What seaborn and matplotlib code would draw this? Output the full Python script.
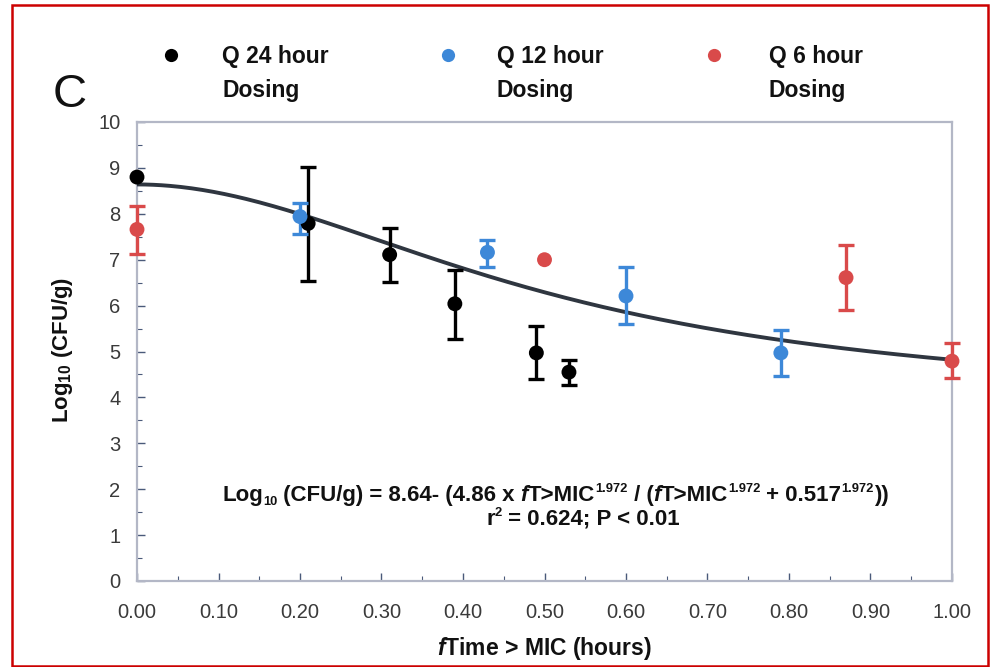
import numpy as np
import pandas as pd
import matplotlib
matplotlib.use("Agg")
import matplotlib.pyplot as plt
from matplotlib.lines import Line2D
from matplotlib.patches import Rectangle
from matplotlib.ticker import MultipleLocator, FormatStrFormatter
import seaborn as sns

# ---------------- data ----------------
q24_x = [0.00, 0.21, 0.31, 0.39, 0.49, 0.53]
q24_y = [8.80, 7.79, 7.11, 6.04, 4.97, 4.55]
q24_hi = [8.80, 9.01, 7.68, 6.78, 5.56, 4.81]
q24_lo = [8.80, 6.54, 6.52, 5.27, 4.40, 4.27]

q12_x = [0.20, 0.43, 0.60, 0.79]
q12_y = [7.94, 7.16, 6.21, 4.97]
q12_hi = [8.23, 7.44, 6.85, 5.47]
q12_lo = [7.57, 6.85, 5.60, 4.46]

q6_x = [0.00, 0.50, 0.87, 1.00]
q6_y = [7.66, 7.00, 6.61, 4.79]
q6_hi = [8.18, 7.00, 7.33, 5.19]
q6_lo = [7.13, 7.00, 5.91, 4.42]

# fitted model parameters (from the equation on the chart)
E0 = 8.64
EMAX = 4.86
HILL = 1.972
EC50 = 0.517

series_names = ["Q 24 hour\nDosing", "Q 12 hour\nDosing", "Q 6 hour\nDosing"]
colors = ["#000000", "#3d88d8", "#d94a4a"]
x_ticks = [0.0, 0.1, 0.2, 0.3, 0.4, 0.5, 0.6, 0.7, 0.8, 0.9, 1.0]
y_ticks = [0, 1, 2, 3, 4, 5, 6, 7, 8, 9, 10]

# ---------------- style ----------------
sns.set_style("ticks")
plt.rcParams["font.family"] = ["Liberation Sans", "DejaVu Sans"]
plt.rcParams["mathtext.fontset"] = "custom"
plt.rcParams["mathtext.rm"] = "Liberation Sans:bold"
plt.rcParams["mathtext.bf"] = "Liberation Sans:bold"
plt.rcParams["mathtext.it"] = "Liberation Sans:italic:bold"

W, H = 992, 667
fig = plt.figure(figsize=(W / 100, H / 100), dpi=100)
L, R, T, B = 137, 952, 122, 581
ax = fig.add_axes([L / W, 1 - B / H, (R - L) / W, (B - T) / H])

# fitted curve
xs = np.linspace(0, 1, 300)
ys = E0 - EMAX * xs ** HILL / (xs ** HILL + EC50 ** HILL)
curve = pd.DataFrame({"x": xs, "y": ys})
sns.lineplot(data=curve, x="x", y="y", color="#2f3640", linewidth=2.8, ax=ax, zorder=3)

# error bars and points
frames = []
for name, xv, yv, hi, lo, c in [
    (series_names[0], q24_x, q24_y, q24_hi, q24_lo, colors[0]),
    (series_names[1], q12_x, q12_y, q12_hi, q12_lo, colors[1]),
    (series_names[2], q6_x, q6_y, q6_hi, q6_lo, colors[2]),
]:
    yv_a = np.array(yv)
    err = np.vstack([yv_a - np.array(lo), np.array(hi) - yv_a])
    mask = err.sum(axis=0) > 0
    eb = ax.errorbar(np.array(xv)[mask], yv_a[mask], yerr=err[:, mask], fmt="none",
                     ecolor=c, elinewidth=2.4, capsize=5.5, capthick=2.4, zorder=4)
    for art in eb.lines[1] + eb.lines[2]:
        art.set_clip_on(False)
    frames.append(pd.DataFrame({"x": xv, "y": yv, "series": name}))
df = pd.concat(frames, ignore_index=True)
sns.scatterplot(data=df, x="x", y="y", hue="series", palette=colors, s=115,
                edgecolor="none", legend=False, ax=ax, zorder=5, clip_on=False)

# axes
ax.set_xlim(0, 1)
ax.set_ylim(0, 10)
ax.set_xticks(x_ticks)
ax.set_yticks(y_ticks)
ax.xaxis.set_major_formatter(FormatStrFormatter("%.2f"))
ax.xaxis.set_minor_locator(MultipleLocator(0.05))
ax.yaxis.set_minor_locator(MultipleLocator(0.5))
ax.tick_params(which="both", direction="in", colors="#4a5a7a", labelcolor="#3a3a3a")
ax.tick_params(which="major", length=6, width=1.0, labelsize=14.5)
ax.tick_params(axis="x", which="major", pad=16)
ax.tick_params(axis="y", which="major", pad=12)
ax.tick_params(which="minor", length=3.5, width=0.8)
for s in ax.spines.values():
    s.set_color("#b3b7c6")
    s.set_linewidth(1.6)

ax.set_xlabel(r"$\mathit{f}$Time > MIC (hours)", fontsize=16.5, fontweight="bold", color="#111111")
ax.xaxis.set_label_coords(0.5, -(649 - B) / (B - T), transform=ax.transAxes)
ax.set_ylabel(r"Log$_{\mathbf{10}}$ (CFU/g)", fontsize=16, fontweight="bold", color="#111111")
ax.yaxis.set_label_coords(-(137 - 62) / (R - L), (B - 350) / (B - T))
ax.xaxis.label.set_va("center")
ax.yaxis.label.set_va("center")

# panel letter
fig.text(70 / W, 1 - 95 / H, "C", fontsize=34, ha="center", va="center", color="#111111")

# legend (manual layout)
leg_marker_x = [171, 448, 714]
leg_text_x = [222, 497, 769]
for mx, tx, name, c in zip(leg_marker_x, leg_text_x, series_names, colors):
    fig.add_artist(Line2D([mx / W], [1 - 55 / H], marker="o", markersize=9.5,
                          color=c, markeredgecolor="none", linestyle="none",
                          transform=fig.transFigure))
    line1, line2 = name.split("\n")
    fig.text(tx / W, 1 - 57 / H, line1, fontsize=16.5, fontweight="bold",
             ha="left", va="center", color="#111111")
    fig.text(tx / W, 1 - 90 / H, line2, fontsize=16.5, fontweight="bold",
             ha="left", va="center", color="#111111")

# equation text built from consecutive segments
def rich_text(x_px, y_px, segments, size=16):
    prev_main = None
    prev = None
    for txt, kind in segments:
        style = "italic" if kind == "it" else "normal"
        fs = size * 0.58 if kind in ("sup", "sub") else size
        if prev is None:
            a = fig.text(x_px / W, 1 - y_px / H, txt, fontsize=fs, fontweight="bold",
                         style=style, ha="left", va="bottom", color="#111111")
            prev_main = a
        else:
            if kind == "sup":
                yo = 0.52
            elif kind == "sub":
                yo = -0.08
            else:
                yo = 0.0
            a = ax.annotate(txt, xy=(1, yo), xycoords=(prev, prev_main),
                            fontsize=fs, fontweight="bold", style=style,
                            ha="left", va="bottom", color="#111111",
                            annotation_clip=False)
            if kind not in ("sup", "sub"):
                prev_main = a
        prev = a

rich_text(222, 506, [
    ("Log", "n"), ("10", "sub"), (" (CFU/g) = 8.64- (4.86 x ", "n"), ("f", "it"),
    ("T>MIC", "n"), ("1.972", "sup"), (" / (", "n"), ("f", "it"), ("T>MIC", "n"),
    ("1.972", "sup"), (" + 0.517", "n"), ("1.972", "sup"), ("))", "n"),
])
rich_text(486, 530, [("r", "n"), ("2", "sup"), (" = 0.624; P < 0.01", "n")])

# outer red frame
fig.add_artist(Rectangle((12 / W, 1 / H), (988 - 12) / W, (662 - 1) / H,
                         transform=fig.transFigure, fill=False,
                         edgecolor="#cc0000", linewidth=1.8))

fig.savefig("out.png", dpi=100)
